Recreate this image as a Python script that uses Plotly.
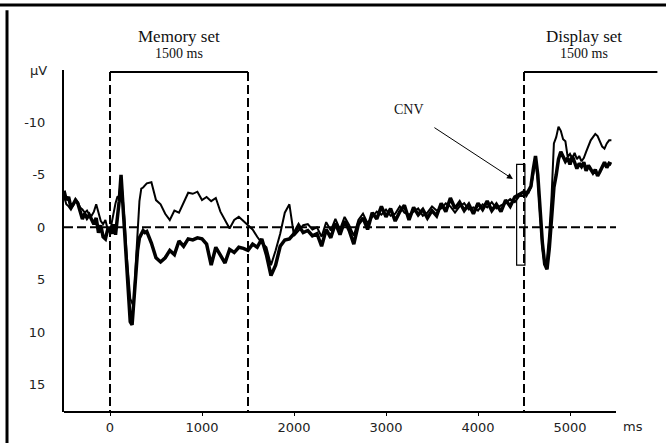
import numpy as np
import plotly.graph_objects as go

# sampling grid (ms)
t = np.concatenate([
    np.arange(-500, 0, 25),
    np.arange(0, 400, 20),
    np.arange(400, 4500, 50),
    np.arange(4500, 5475, 25),
])

thick_a = [-3.5, -2.6, -2.9, -1.9, -2.2, -2.6, -2.3, -1.4, -0.8, -1.3, -0.9, -1.2, -0.8, -0.3, -0.9, 0.5, -0.2, 0.9, 1.1, 0.2]
thick_b = [0.3, 0.6, -0.3, 0.7, -0.9, -2.5, -5.0, -2.0, 1.3, 3.8, 6.5, 9.0, 9.3, 6.5, 4.0, 2.2, 1.0, 0.6, 0.3, 0.5]
thick_c = [0.4, 1.5, 2.9, 3.3, 2.9, 2.2, 2.6, 1.3, 1.8, 1.1,
           1.2, 1.0, 1.1, 1.6, 3.6, 1.9, 2.6, 3.4, 2.1, 2.4,
           1.9, 2.0, 2.2, 1.6, 1.9, 1.1, 2.6, 4.6, 3.6, 1.8,
           1.2, 1.1, 0.6, -0.2, 0.5, 0.3, 0.8, 0.6, 1.8, 0.2,
           1.0, -0.4, 0.7, -0.6, 0.3, 1.6, -0.3, -0.9, 0.2, -1.4,
           -0.8, -2.0, -1.0, -1.8, -0.6, -1.5, -2.1, -0.7, -1.9, -1.2,
           -1.7, -0.9, -1.6, -1.1, -2.3, -1.5, -2.8, -1.8, -2.4, -1.6,
           -2.2, -1.3, -2.3, -1.7, -2.5, -1.6, -2.2, -1.5, -2.6, -2.0,
           -2.9, -3.2]
thick_d = [-3.4, -3.1, -3.6, -3.9, -5.5, -6.8, -5.0, -1.5, 1.5, 3.5,
           4.0, 2.0, -1.5, -3.8, -5.0, -6.5, -7.2, -6.8, -6.3, -6.6,
           -6.0, -6.8, -6.3, -5.6, -6.1, -5.8, -6.2, -5.4, -5.9, -5.6,
           -5.2, -5.5, -4.9, -5.3, -5.8, -6.2, -5.7, -6.1, -6.0]

thin_a = [-3.0, -2.2, -2.0, -1.7, -2.1, -2.7, -2.4, -1.9, -1.7, -1.4, -1.6, -1.2, -1.1, -1.5, -2.2, -1.3, -0.6, -0.3, -0.7, 0.2]
thin_b = [0.5, -0.5, -1.6, -2.3, -2.9, -3.0, -4.8, -3.0, -0.5, 2.5, 5.0, 6.8, 7.2, 7.0, 3.5, 0.5, -2.5, -3.7, -3.8, -4.0]
thin_c = [-4.2, -4.3, -2.6, -2.2, -1.3, -0.7, -1.6, -1.4, -2.3, -3.3,
          -3.2, -3.4, -2.6, -2.9, -2.5, -2.8, -1.5, -0.7, 0.1, -0.7,
          -1.0, -0.6, -0.2, 0.2, 0.9, 1.5, 1.9, 3.6, 2.2, 0.6,
          -1.4, -2.2, 0.8, 0.3, -0.2, -0.3, 0.2, 0.0, 0.9, -0.5,
          0.3, -0.8, 0.2, -1.0, -0.2, 0.8, -0.7, -1.3, -0.4, -1.0,
          -1.5, -1.2, -1.7, -1.1, -1.3, -2.0, -1.4, -1.2, -1.5, -1.8,
          -1.1, -1.4, -2.0, -1.6, -1.8, -2.3, -2.0, -1.4, -2.0, -2.3,
          -1.7, -1.9, -1.6, -2.2, -1.9, -2.4, -1.8, -2.1, -2.3, -2.7,
          -2.4, -3.0]
thin_d = [-3.0, -3.4, -3.3, -3.8, -5.0, -6.5, -4.5, -1.0, 2.0, 3.6,
          3.0, 0.5, -3.0, -8.0, -8.6, -9.6, -9.2, -8.4, -8.2, -6.7,
          -7.0, -6.6, -7.1, -6.5, -6.8, -6.3, -6.6, -7.2, -7.8, -8.3,
          -8.6, -8.9, -8.7, -8.1, -7.7, -7.5, -8.0, -8.3, -8.3]

thick = thick_a + thick_b + thick_c + thick_d
thin = thin_a + thin_b + thin_c + thin_d

x_ticks = [0, 1000, 2000, 3000, 4000, 5000]
y_ticks = [-10, -5, 0, 5, 10, 15]

X_RANGE = [-500, 6000]
X_AXIS_END = 5500
Y_RANGE = [17.6, -15]
BRACKET_Y = -14.8
CNV_BOX = dict(x0=4420, x1=4510, y0=-6.0, y1=3.6)

fig = go.Figure()
fig.add_trace(go.Scatter(x=t, y=thin, mode="lines", line=dict(color="black", width=2), showlegend=False))
fig.add_trace(go.Scatter(x=t, y=thick, mode="lines", line=dict(color="black", width=3.5), showlegend=False))

dash = "9px,4px"
shapes = []
# zero baseline
shapes.append(dict(type="line", xref="x", yref="y", x0=-500, x1=X_AXIS_END, y0=0, y1=0,
                   line=dict(color="black", width=2, dash=dash)))
# event markers
for xv in [0, 1500, 4500]:
    shapes.append(dict(type="line", xref="x", yref="y", x0=xv, x1=xv, y0=BRACKET_Y, y1=Y_RANGE[0],
                       line=dict(color="black", width=2, dash=dash)))
# brackets
shapes.append(dict(type="line", xref="x", yref="y", x0=0, x1=1500, y0=BRACKET_Y, y1=BRACKET_Y,
                   line=dict(color="black", width=2)))
shapes.append(dict(type="line", xref="x", yref="y", x0=4500, x1=5950, y0=BRACKET_Y, y1=BRACKET_Y,
                   line=dict(color="black", width=2)))
# x axis line
shapes.append(dict(type="line", xref="x", yref="paper", x0=-500, x1=X_AXIS_END, y0=0, y1=0,
                   line=dict(color="black", width=2)))
# CNV box
shapes.append(dict(type="rect", xref="x", yref="y", **CNV_BOX, line=dict(color="black", width=1.2)))
# frame lines of the figure
shapes.append(dict(type="line", xref="paper", yref="paper", x0=-0.11, x1=1.01, y0=1.19, y1=1.19,
                   line=dict(color="black", width=3)))
shapes.append(dict(type="line", xref="paper", yref="paper", x0=-0.0953, x1=-0.0953, y0=1.175, y1=-0.1,
                   line=dict(color="black", width=3)))

serif = "Liberation Serif, Times New Roman, serif"
sans = "DejaVu Sans, Verdana, sans-serif"
ann = [
    dict(x=750, y=BRACKET_Y, xref="x", yref="y", text="Memory set", showarrow=False,
         yshift=36, font=dict(family=serif, size=17, color="#111")),
    dict(x=750, y=BRACKET_Y, xref="x", yref="y", text="1500 ms", showarrow=False,
         yshift=19, font=dict(family=serif, size=14, color="#111")),
    dict(x=5150, y=BRACKET_Y, xref="x", yref="y", text="Display set", showarrow=False,
         yshift=36, font=dict(family=serif, size=17, color="#111")),
    dict(x=5150, y=BRACKET_Y, xref="x", yref="y", text="1500 ms", showarrow=False,
         yshift=19, font=dict(family=serif, size=14, color="#111")),
    dict(x=3250, y=-11.2, xref="x", yref="y", text="CNV", showarrow=False,
         font=dict(family=serif, size=14, color="#111")),
    dict(x=4380, y=-4.6, xref="x", yref="y", ax=3510, ay=-9.6, axref="x", ayref="y",
         text="", showarrow=True, arrowhead=2, arrowsize=1.2, arrowwidth=1, arrowcolor="black"),
    dict(x=-500, y=-15, xref="x", yref="y", text="µV", showarrow=False, xanchor="right",
         xshift=-15, font=dict(family=sans, size=13, color="#222")),
    dict(x=5680, y=0, xref="x", yref="paper", text="ms", showarrow=False, yanchor="top",
         yshift=-5, font=dict(family=sans, size=13, color="#222")),
]

fig.update_layout(
    width=666, height=443,
    margin=dict(l=64, r=4, t=70, b=31),
    paper_bgcolor="white", plot_bgcolor="white",
    shapes=shapes, annotations=ann,
    xaxis=dict(range=X_RANGE, tickvals=x_ticks, ticktext=[str(v) for v in x_ticks],
               showgrid=False, zeroline=False, showline=False,
               ticks="outside", ticklen=3, tickcolor="black",
               tickfont=dict(family=sans, size=13, color="#222")),
    yaxis=dict(range=Y_RANGE, tickvals=y_ticks, ticktext=[str(v) for v in y_ticks],
               showgrid=False, zeroline=False, showline=True, linecolor="black", linewidth=2,
               ticks="", ticklabelstandoff=14,
               tickfont=dict(family=sans, size=13, color="#222")),
)

fig.write_html("out.html")
